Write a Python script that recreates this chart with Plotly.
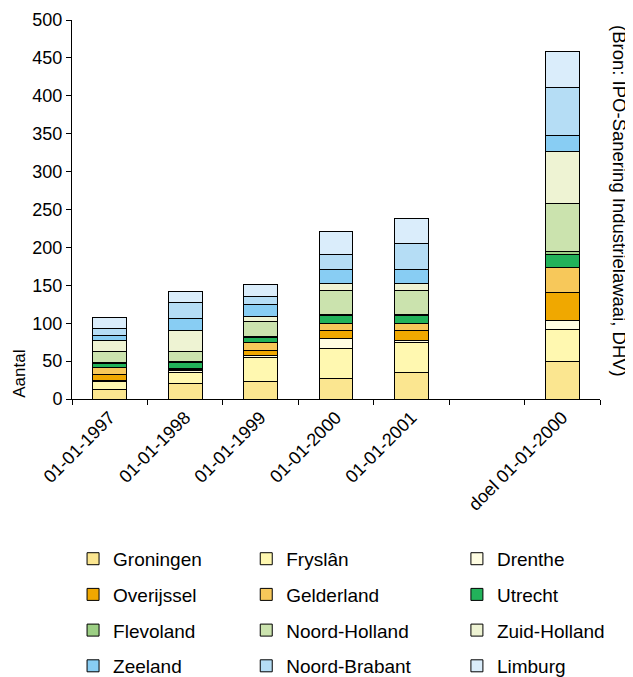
import plotly.graph_objects as go

categories = ["01-01-1997", "01-01-1998", "01-01-1999", "01-01-2000", "01-01-2001", " ", "doel 01-01-2000"]

provinces = ["Groningen", "Fryslân", "Drenthe", "Overijssel", "Gelderland", "Utrecht",
             "Flevoland", "Noord-Holland", "Zuid-Holland", "Zeeland", "Noord-Brabant", "Limburg"]

groningen     = [13, 20, 23, 27, 35.5, None, 49]
fryslan       = [10, 14.5, 32, 39, 39, None, 43]
drenthe       = [2, 2.5, 2, 13.5, 3, None, 12]
overijssel    = [7, 2, 7, 11, 13, None, 37]
gelderland    = [9, 1.5, 10, 9, 9, None, 33]
utrecht       = [6, 7.5, 7, 10.5, 10.5, None, 17]
flevoland     = [1.5, 1.5, 1.5, 1.5, 1.5, None, 3]
noord_holland = [14, 13, 20, 31, 31, None, 64]
zuid_holland  = [14.5, 28, 6.5, 10, 10, None, 69]
zeeland       = [7, 16, 16, 18, 19, None, 21]
noord_brabant = [9, 21, 10, 19.5, 34, None, 63]
limburg       = [14.5, 14.5, 16, 31, 32, None, 47]

series = [groningen, fryslan, drenthe, overijssel, gelderland, utrecht,
          flevoland, noord_holland, zuid_holland, zeeland, noord_brabant, limburg]

colors = ["#FBE690", "#FFF8B0", "#FFFDE2", "#F0A800", "#F7C85A", "#22B25A",
          "#9CCF84", "#CBE3AE", "#EEF3D3", "#88CDF3", "#B5DDF5", "#DAEDFB"]

legend_ids = ["legend", "legend2", "legend3"]

fig = go.Figure()
for i, (name, vals, col) in enumerate(zip(provinces, series, colors)):
    fig.add_trace(go.Bar(
        x=categories, y=vals, name=name,
        marker=dict(color=col, line=dict(color="black", width=1)),
        legend=legend_ids[i % 3], legendgroup=name,
    ))

font_family = "Liberation Sans, Arial, sans-serif"
leg_common = dict(orientation="v", yanchor="top", xanchor="left",
                  yref="container", y=0.205,
                  font=dict(size=19, color="black", family=font_family),
                  tracegroupgap=8, bgcolor="rgba(0,0,0,0)", traceorder="grouped")

fig.update_layout(
    width=625, height=669,
    margin=dict(l=64, r=33, t=12, b=278, autoexpand=False),
    barmode="stack", bargap=0.55,
    plot_bgcolor="white", paper_bgcolor="white",
    font=dict(family=font_family, size=17, color="black"),
    xaxis=dict(showline=True, linecolor="black", linewidth=1, ticks="outside",
               tickson="boundaries", ticklen=5, tickcolor="black", tickangle=-45,
               showgrid=False, tickfont=dict(size=18), automargin=False),
    yaxis=dict(range=[0, 500], dtick=50, showline=True, linecolor="black", linewidth=1,
               ticks="outside", ticklen=5, tickcolor="black", showgrid=False,
               zeroline=False, tickfont=dict(size=18), automargin=False),
    legend=dict(x=0.002, **leg_common),
    legend2=dict(x=0.330, **leg_common),
    legend3=dict(x=0.729, **leg_common),
    annotations=[
        dict(text="Aantal", xref="paper", yref="paper", x=-0.099, y=0.066,
             xanchor="center", yanchor="middle",
             showarrow=False, textangle=-90, font=dict(size=17)),
        dict(text="(Bron: IPO-Sanering Industrielawaai, DHV)", xref="paper", yref="paper",
             x=1.038, y=0.522, xanchor="center", yanchor="middle",
             showarrow=False, textangle=90, font=dict(size=18.5)),
    ],
)

fig.write_html("out.html")
